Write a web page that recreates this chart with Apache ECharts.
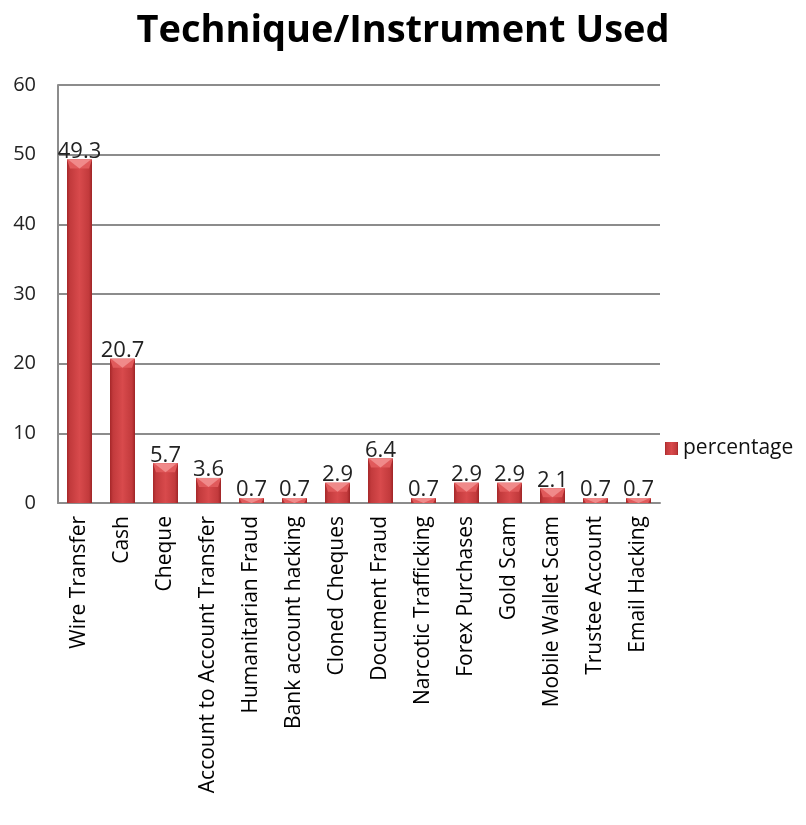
<!DOCTYPE html>
<html><head><meta charset="utf-8">
<script src="https://cdn.jsdelivr.net/npm/echarts@6/dist/echarts.min.js"></script>
<style>html,body{margin:0;padding:0;background:#fff}#c{width:806px;height:825px}</style>
</head><body><div id="c"></div>
<script>
const categories = ["Wire Transfer","Cash","Cheque","Account to Account Transfer","Humanitarian Fraud","Bank account hacking","Cloned Cheques","Document Fraud","Narcotic Trafficking","Forex Purchases","Gold Scam","Mobile Wallet Scam","Trustee Account","Email Hacking"];
const percentage = [49.3,20.7,5.7,3.6,0.7,0.7,2.9,6.4,0.7,2.9,2.9,2.1,0.7,0.7];
const yTicks = [0,10,20,30,40,50,60];

const FONT = 'Open Sans';
const BAR_W = 25;
const chart = echarts.init(document.getElementById('c'));
const barColor = new echarts.graphic.LinearGradient(0,0,1,0,[
  {offset:0,color:'#a52729'},{offset:0.12,color:'#c23a3c'},{offset:0.5,color:'#d84a4c'},{offset:0.88,color:'#c23a3c'},{offset:1,color:'#9e2426'}]);
chart.setOption({
  animation:false,
  title:{text:'Technique/Instrument Used',left:'center',top:7,
    textStyle:{fontFamily:FONT,fontWeight:'bold',fontSize:38,color:'#000'}},
  legend:{data:['percentage'],left:660,top:433,itemWidth:13,itemHeight:13,itemGap:8,
    icon:'rect',textStyle:{fontFamily:FONT,fontSize:21,color:'#111'}},
  grid:{left:58,right:146,top:85,bottom:322,containLabel:false},
  xAxis:{type:'category',data:categories,
    axisLine:{lineStyle:{color:'#8c8c8c',width:2}},axisTick:{show:false},
    axisLabel:{rotate:90,fontFamily:FONT,fontSize:21,color:'#000',margin:13,interval:0}},
  yAxis:{type:'value',min:yTicks[0],max:yTicks[yTicks.length-1],interval:10,
    axisLine:{show:true,lineStyle:{color:'#8c8c8c',width:2}},axisTick:{show:false},
    splitLine:{lineStyle:{color:'#8c8c8c',width:2}},
    axisLabel:{fontFamily:FONT,fontSize:20,color:'#222',margin:22}},
  series:[{name:'percentage',type:'bar',data:percentage,barWidth:BAR_W,
    itemStyle:{color:barColor},
    label:{show:true,position:'top',distance:-3,fontFamily:FONT,fontSize:22,color:'#222'}},
  {name:'bevel',type:'custom',silent:true,z:3,data:percentage.map((v,i)=>[i,v]),
    renderItem:function(params,api){
      const top = api.coord([api.value(0),api.value(1)]);
      const base = api.coord([api.value(0),0]);
      const h = base[1]-top[1];
      const bh = Math.min(9,h);
      const x0 = top[0]-BAR_W/2, x1 = top[0]+BAR_W/2;
      return {type:'group',children:[
        {type:'polygon',shape:{points:[[x0,top[1]],[x1,top[1]],[x1-3,top[1]+bh],[x0+3,top[1]+bh]]},
          style:{fill:'#e05a5b'}},
        {type:'polygon',shape:{points:[[x0+1,top[1]],[x1-1,top[1]],[top[0],top[1]+bh]]},
          style:{fill:'#f08a8a'}}
      ]};
    }}]
});
</script></body></html>
